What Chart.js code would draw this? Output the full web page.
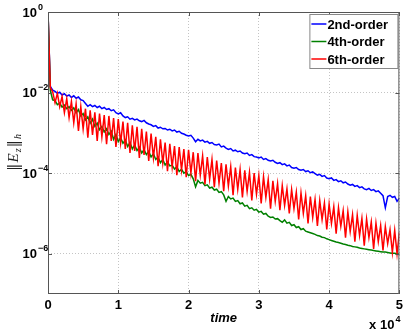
<!DOCTYPE html>
<html>
<head>
<meta charset="utf-8">
<script src="https://cdn.jsdelivr.net/npm/chart.js@4.4.0/dist/chart.umd.min.js"></script>
<style>
    html, body { margin: 0; padding: 0; background: #fff; }
    #wrap { width: 407px; height: 330px; }
</style>
</head>
<body>
<div id="wrap"><canvas id="errChart" width="407" height="330"></canvas></div>
<script>
// series names / colours (MATLAB defaults b, g, r)
const seriesNames = ['2nd-order', '4th-order', '6th-order'];
const seriesColors = ['#0000ff', '#008000', '#ff0000'];

// time runs 0 .. 5e4, samples are evenly spaced
const timeEnd = 50000;
const xTickValues = [0, 10000, 20000, 30000, 40000, 50000];
const yTickExponents = [0, -2, -4, -6];

// log10 of ||E_z||_h
const blueLog = [
    0, -1.85, -1.94, -1.97, -2.02, -1.99, -2.06, -2.03, -2.09, -2.06,
    -2.12, -2.08, -2.14, -2.11, -2.18, -2.2, -2.27, -2.34, -2.3, -2.35,
    -2.32, -2.37, -2.34, -2.4, -2.37, -2.42, -2.4, -2.45, -2.43, -2.5,
    -2.53, -2.5, -2.58, -2.62, -2.6, -2.66, -2.64, -2.68, -2.66, -2.7,
    -2.72, -2.69, -2.75, -2.78, -2.8, -2.84, -2.82, -2.88, -2.86, -2.9,
    -2.89, -2.93, -2.91, -2.95, -2.93, -2.98, -2.96, -3.01, -3.03, -3.06,
    -3.08, -3.06, -3.13, -3.22, -3.16, -3.2, -3.18, -3.23, -3.21, -3.26,
    -3.24, -3.29, -3.3, -3.28, -3.35, -3.33, -3.38, -3.41, -3.39, -3.45,
    -3.43, -3.47, -3.45, -3.5, -3.52, -3.5, -3.56, -3.54, -3.59, -3.6,
    -3.62, -3.6, -3.66, -3.64, -3.68, -3.7, -3.68, -3.73, -3.76, -3.74,
    -3.79, -3.77, -3.82, -3.8, -3.86, -3.88, -3.86, -3.91, -3.93, -3.91,
    -3.96, -3.94, -3.99, -3.97, -4.01, -4.05, -4.03, -4.08, -4.06, -4.12,
    -4.14, -4.12, -4.18, -4.16, -4.21, -4.19, -4.24, -4.22, -4.27, -4.3,
    -4.28, -4.33, -4.31, -4.36, -4.34, -4.39, -4.41, -4.38, -4.43, -4.41,
    -4.46, -4.44, -4.5, -4.56, -4.86, -4.58, -4.55, -4.6, -4.58, -4.7,
    -4.62
];
const greenLog = [
    0, -1.95, -2.18, -2.2, -2.3, -2.26, -2.36, -2.31, -2.4, -2.35,
    -2.44, -2.38, -2.5, -2.42, -2.58, -2.52, -2.68, -2.6, -2.76, -2.66,
    -2.84, -2.76, -2.92, -2.84, -2.98, -2.9, -3.04, -2.96, -3.16, -3.04,
    -3.22, -3.12, -3.26, -3.18, -3.34, -3.24, -3.4, -3.3, -3.44, -3.36,
    -3.5, -3.42, -3.54, -3.46, -3.6, -3.52, -3.66, -3.6, -3.74, -3.66,
    -3.8, -3.72, -3.82, -3.8, -3.9, -3.84, -3.96, -3.9, -4.0, -3.96,
    -4.06, -4.03, -4.14, -4.34, -4.18, -4.25, -4.23, -4.31, -4.29, -4.37,
    -4.35, -4.42, -4.4, -4.48, -4.46, -4.54, -4.7, -4.58, -4.64, -4.62,
    -4.7, -4.68, -4.76, -4.74, -4.82, -4.8, -4.88, -4.86, -4.92, -4.9,
    -4.97, -4.95, -5.02, -5.0, -5.07, -5.1, -5.09, -5.14, -5.13, -5.18,
    -5.22, -5.16, -5.24, -5.22, -5.3, -5.28, -5.35, -5.33, -5.4, -5.38,
    -5.44, -5.46, -5.48, -5.5, -5.52, -5.55, -5.56, -5.59, -5.6, -5.63,
    -5.65, -5.67, -5.69, -5.71, -5.72, -5.74, -5.76, -5.77, -5.79, -5.8,
    -5.82, -5.83, -5.84, -5.86, -5.87, -5.88, -5.89, -5.9, -5.91, -5.92,
    -5.93, -5.94, -5.95, -5.96, -5.96, -5.97, -5.98, -5.99, -5.99, -6.0,
    -6.01
];
const redLog = [
    0, -1.88, -1.98, -2.25, -2.02, -2.35, -2.1, -2.5, -2.15, -2.62,
    -2.22, -2.75, -2.28, -2.95, -2.35, -2.9, -2.4, -3.12, -2.44, -3.05,
    -2.49, -3.2, -2.52, -3.1, -2.56, -3.28, -2.58, -3.2, -2.63, -3.35,
    -2.66, -3.25, -2.72, -3.4, -2.75, -3.5, -2.81, -3.45, -2.85, -3.62,
    -2.9, -3.55, -2.97, -3.7, -3.02, -3.62, -3.1, -3.83, -3.16, -3.75,
    -3.24, -3.95, -3.27, -3.85, -3.33, -4.05, -3.35, -3.92, -3.4, -4.1,
    -3.42, -4.0, -3.48, -4.2, -3.5, -4.05, -3.57, -4.28, -3.6, -4.15,
    -3.66, -4.35, -3.69, -4.25, -3.75, -4.45, -3.78, -4.32, -3.84, -4.55,
    -3.86, -4.4, -3.91, -4.6, -3.93, -4.45, -3.98, -4.68, -4.0, -4.52,
    -4.06, -4.75, -4.09, -4.6, -4.16, -4.88, -4.19, -4.7, -4.26, -4.92,
    -4.31, -4.8, -4.39, -5.0, -4.41, -4.88, -4.47, -5.15, -4.49, -5.0,
    -4.56, -5.25, -4.58, -5.1, -4.65, -5.31, -4.68, -5.15, -4.74, -5.4,
    -4.77, -5.25, -4.83, -5.5, -4.86, -5.32, -4.93, -5.6, -4.96, -5.45,
    -5.03, -5.7, -5.05, -5.55, -5.12, -5.8, -5.14, -5.6, -5.21, -5.88,
    -5.24, -5.7, -5.3, -5.92, -5.33, -5.75, -5.4, -5.97, -5.42, -6.0,
    -5.47
];

const toPoints = (logs) => logs.map((v, i) => ({
    x: i * timeEnd / (logs.length - 1),
    y: Math.pow(10, v)
}));

const axisFont = '"Liberation Sans", Helvetica, Arial, sans-serif';

// box, inner ticks, legend, y labels with exponents etc. (MATLAB look)
const matlabFrame = {
    id: 'matlabFrame',
    afterDatasetsDraw(chart) {
        const { ctx, chartArea: ca, scales } = chart;
        ctx.save();
        ctx.strokeStyle = '#555';
        ctx.lineWidth = 1;
        ctx.beginPath();
        ctx.rect(ca.left + 0.5, ca.top + 0.5, ca.right - ca.left - 1, ca.bottom - ca.top - 1);
        ctx.stroke();

        // tick marks pointing inward
        ctx.beginPath();
        xTickValues.forEach(v => {
            const x = Math.round(scales.x.getPixelForValue(v)) + 0.5;
            ctx.moveTo(x, ca.bottom);
            ctx.lineTo(x, ca.bottom - 4);
            ctx.moveTo(x, ca.top);
            ctx.lineTo(x, ca.top + 4);
        });
        yTickExponents.forEach(e => {
            const y = Math.round(scales.y.getPixelForValue(Math.pow(10, e))) + 0.5;
            ctx.moveTo(ca.left, y);
            ctx.lineTo(ca.left + 4, y);
            ctx.moveTo(ca.right, y);
            ctx.lineTo(ca.right - 4, y);
        });
        ctx.stroke();

        // legend in the top right corner
        const lx = ca.right - 90, ly = ca.top + 2, lw = 88, lh = 54;
        ctx.fillStyle = '#fff';
        ctx.fillRect(lx, ly, lw, lh);
        ctx.strokeStyle = '#888';
        ctx.strokeRect(lx + 0.5, ly + 0.5, lw, lh);
        ctx.font = 'bold 13px ' + axisFont;
        ctx.textAlign = 'left';
        ctx.textBaseline = 'middle';
        seriesNames.forEach((name, i) => {
            const y = ly + 10 + i * 17.5;
            ctx.strokeStyle = seriesColors[i];
            ctx.lineWidth = 1.5;
            ctx.beginPath();
            ctx.moveTo(lx + 2, y);
            ctx.lineTo(lx + 17, y);
            ctx.stroke();
            ctx.fillStyle = '#000';
            ctx.fillText(name, lx + 18, y + 1);
        });
        ctx.restore();
    },
    afterDraw(chart) {
        const { ctx, chartArea: ca, scales } = chart;
        ctx.save();
        ctx.fillStyle = '#000';

        // y tick labels 10^e
        yTickExponents.forEach(e => {
            const y = scales.y.getPixelForValue(Math.pow(10, e));
            ctx.font = 'bold 13px ' + axisFont;
            ctx.textAlign = 'right';
            ctx.textBaseline = 'middle';
            ctx.fillText('10', ca.left - 11, y + 1);
            ctx.font = 'bold 9px ' + axisFont;
            ctx.textAlign = 'left';
            ctx.textBaseline = 'alphabetic';
            ctx.fillText(e === 0 ? '0' : '\u2212' + (-e), ca.left - 10, y - 2.5);
        });

        // x 10^4 multiplier
        ctx.font = 'bold 13px ' + axisFont;
        ctx.textAlign = 'right';
        ctx.textBaseline = 'alphabetic';
        ctx.fillText('x 10', ca.right - 5, 329);
        ctx.font = 'bold 9px ' + axisFont;
        ctx.textAlign = 'left';
        ctx.fillText('4', ca.right - 4, 322);

        // y axis title ||E_z||_h, rotated
        const parts = [
            { t: '\u2016', f: '15px "DejaVu Serif", serif', dy: 0 },
            { t: 'E', f: 'italic 15px "Liberation Serif", serif', dy: 0 },
            { t: 'z', f: 'italic 10px "Liberation Serif", serif', dy: 3 },
            { t: '\u2016', f: '15px "DejaVu Serif", serif', dy: 0 },
            { t: 'h', f: 'italic 10px "Liberation Serif", serif', dy: 3 }
        ];
        let total = 0;
        parts.forEach(p => { ctx.font = p.f; p.w = ctx.measureText(p.t).width + 1; total += p.w; });
        ctx.translate(13, (ca.top + ca.bottom) / 2 - 1);
        ctx.rotate(-Math.PI / 2);
        ctx.fillStyle = '#222';
        let px = -total / 2;
        parts.forEach(p => {
            ctx.font = p.f;
            ctx.fillText(p.t, px, 5 + p.dy);
            px += p.w;
        });
        ctx.restore();
    }
};

const chartCanvas = document.getElementById('errChart');
const allLogs = [blueLog, greenLog, redLog];

new Chart(chartCanvas, {
    type: 'line',
    data: {
        datasets: allLogs.map((logs, i) => ({
            label: seriesNames[i],
            data: toPoints(logs),
            borderColor: seriesColors[i],
            borderWidth: 1.5,
            pointRadius: 0,
            tension: 0,
            order: 3 - i
        }))
    },
    options: {
        responsive: false,
        devicePixelRatio: 1,
        animation: false,
        layout: { padding: { left: 0, right: 4, top: 12, bottom: 0 } },
        plugins: {
            legend: { display: false },
            tooltip: { enabled: false }
        },
        scales: {
            x: {
                type: 'linear',
                min: 0,
                max: timeEnd,
                afterBuildTicks: (scale) => { scale.ticks = xTickValues.map(v => ({ value: v })); },
                afterFit: (scale) => { scale.height = 36; },
                ticks: {
                    color: '#000',
                    font: { family: axisFont, size: 13, weight: 'bold' },
                    padding: 4,
                    maxRotation: 0,
                    callback: (v) => String(v / 10000)
                },
                grid: { color: '#c4c4c4', lineWidth: 1, drawTicks: false },
                border: { display: false, dash: [1, 2] },
                title: {
                    display: true,
                    text: 'time',
                    color: '#000',
                    font: { family: axisFont, size: 13, weight: 'bold', style: 'italic' },
                    padding: { top: 0, bottom: 4 }
                }
            },
            y: {
                type: 'logarithmic',
                min: 1e-7,
                max: 1,
                afterBuildTicks: (scale) => { scale.ticks = yTickExponents.map(e => ({ value: Math.pow(10, e) })); },
                afterFit: (scale) => { scale.width = 48; },
                ticks: { display: false },
                grid: { color: '#c4c4c4', lineWidth: 1, drawTicks: false },
                border: { display: false, dash: [1, 2] }
            }
        }
    },
    plugins: [matlabFrame]
});
</script>
</body>
</html>
